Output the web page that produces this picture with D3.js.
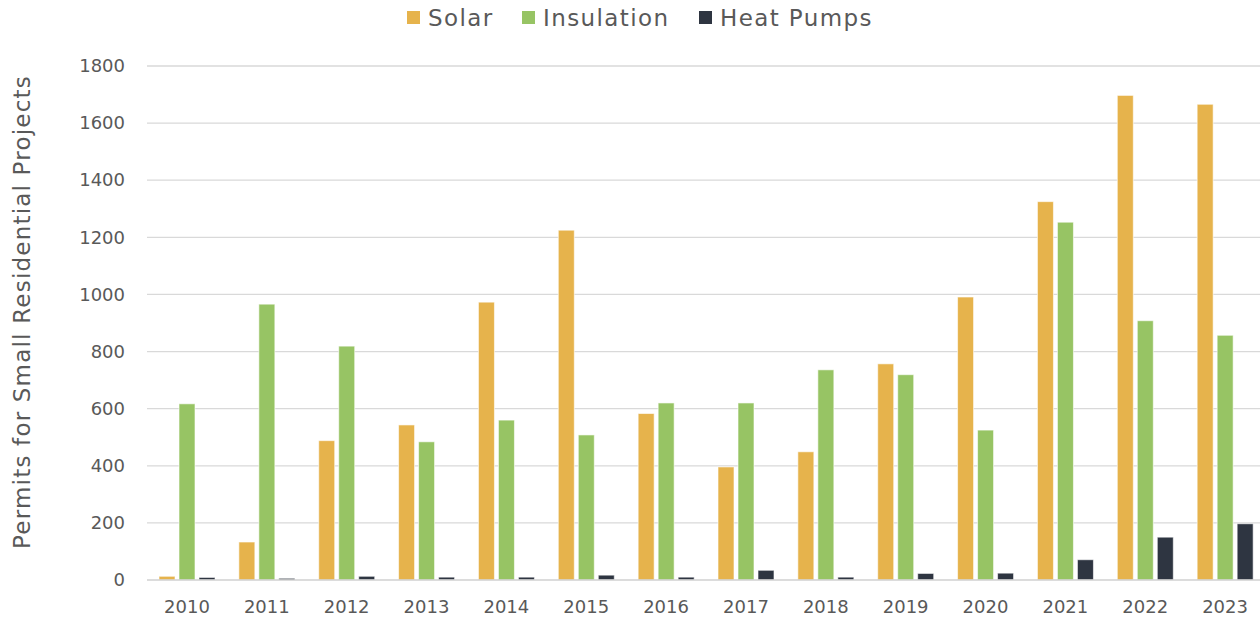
<!DOCTYPE html>
<html>
<head>
<meta charset="utf-8">
<script src="https://cdn.jsdelivr.net/npm/d3@7"></script>
<style>
  body { margin: 0; background: #fff; }
  text { font-family: "DejaVu Sans", sans-serif; fill: #595959; }
</style>
</head>
<body>
<div id="chart"></div>
<script>
// Chart data
var years = ["2010", "2011", "2012", "2013", "2014", "2015", "2016",
             "2017", "2018", "2019", "2020", "2021", "2022", "2023"];
var seriesNames = ["Solar", "Insulation", "Heat Pumps"];
var solar      = [13, 133, 488, 543, 973, 1225, 583, 396, 449, 757, 991, 1325, 1697, 1666];
var insulation = [617, 966, 819, 484, 560, 508, 620, 620, 736, 719, 525, 1253, 908, 857];
var heatPumps  = [9, 6, 13, 10, 10, 17, 10, 34, 10, 23, 24, 71, 150, 197];
var yTicks = [0, 200, 400, 600, 800, 1000, 1200, 1400, 1600, 1800];
var colors = ["#E6B34C", "#97C464", "#2E3541"];

var svgWidth = 1260;
var svgHeight = 622;
var margin = { top: 66, right: -5, bottom: 42, left: 147 };
var width = svgWidth - margin.left - margin.right;
var height = svgHeight - margin.top - margin.bottom;

var svg = d3.select("#chart").append("svg")
  .attr("width", svgWidth)
  .attr("height", svgHeight);

var chartGroup = svg.append("g")
  .attr("transform", `translate(${margin.left}, ${margin.top})`);

var rows = years.map(function(y, i) {
  return { year: y, values: [solar[i], insulation[i], heatPumps[i]] };
});

// scales
var x0 = d3.scaleBand().domain(years).range([0, width]);
var x1 = d3.scaleBand().domain(seriesNames).range([12, 68]).paddingInner(0.2);
var y = d3.scaleLinear().domain([0, 1800]).range([height, 0]);

// gridlines
chartGroup.append("g")
  .selectAll("line")
  .data(yTicks.slice(1))
  .enter()
  .append("line")
  .attr("x1", 0)
  .attr("x2", svgWidth - margin.left)
  .attr("y1", d => y(d))
  .attr("y2", d => y(d))
  .attr("stroke", "#d9d9d9")
  .attr("stroke-width", 1.3);

// y axis labels
var leftAxis = d3.axisLeft(y).tickValues(yTicks).tickFormat(d3.format("d"))
  .tickSize(0).tickPadding(22);
var yAxisG = chartGroup.append("g").call(leftAxis);
yAxisG.select(".domain").remove();
yAxisG.selectAll("text").style("font-size", "18px").attr("fill", "#595959");

// bars
var groups = chartGroup.selectAll(".year")
  .data(rows)
  .enter()
  .append("g")
  .attr("transform", d => `translate(${x0(d.year)}, 0)`);

groups.selectAll("rect")
  .data(d => d.values.map((v, i) => ({ key: seriesNames[i], value: v, i: i })))
  .enter()
  .append("rect")
  .attr("x", d => x1(d.key))
  .attr("y", d => y(d.value))
  .attr("width", x1.bandwidth())
  .attr("height", d => height - y(d.value))
  .attr("fill", d => colors[d.i])
  .attr("stroke", "#fff")
  .attr("stroke-opacity", 0.6)
  .attr("stroke-width", 1);

// x axis
var bottomAxis = d3.axisBottom(x0).tickSize(0).tickPadding(20);
var xAxisG = chartGroup.append("g")
  .attr("transform", `translate(0, ${height})`)
  .call(bottomAxis);
xAxisG.select(".domain").remove();
xAxisG.selectAll("text").style("font-size", "18px").attr("fill", "#595959");
chartGroup.append("line")
  .attr("x1", 0)
  .attr("x2", svgWidth - margin.left)
  .attr("y1", height)
  .attr("y2", height)
  .attr("stroke", "#d0d0d0")
  .attr("stroke-width", 1.5);

// y axis title
svg.append("text")
  .attr("transform", "rotate(-90)")
  .attr("x", -312)
  .attr("y", 30)
  .attr("text-anchor", "middle")
  .style("font-size", "23px")
  .style("letter-spacing", "1.2px")
  .text("Permits for Small Residential Projects");

// legend
var legendX = [407, 522, 699];
var legend = svg.append("g");
seriesNames.forEach(function(name, i) {
  legend.append("rect")
    .attr("x", legendX[i])
    .attr("y", 11)
    .attr("width", 13)
    .attr("height", 13)
    .attr("fill", colors[i]);
  legend.append("text")
    .attr("x", legendX[i] + 21)
    .attr("y", 26)
    .style("font-size", "23px")
    .style("letter-spacing", "1.4px")
    .text(name);
});
</script>
</body>
</html>
